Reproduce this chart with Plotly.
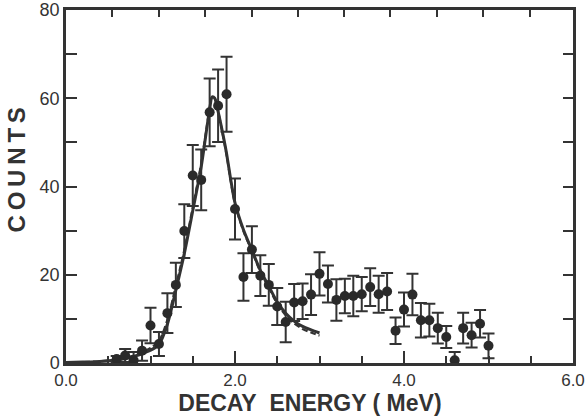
import plotly.graph_objects as go

# Measured spectrum (bin centres in MeV), counts and their error bars
energy = [0.6, 0.7, 0.8, 0.9, 1.0, 1.1, 1.2, 1.3, 1.4, 1.5, 1.6, 1.7, 1.8, 1.9, 2.0,
          2.1, 2.2, 2.3, 2.4, 2.5, 2.6, 2.7, 2.8, 2.9, 3.0, 3.1, 3.2, 3.3, 3.4, 3.5,
          3.6, 3.7, 3.8, 3.9, 4.0, 4.1, 4.2, 4.3, 4.4, 4.5, 4.6, 4.7, 4.8, 4.9, 5.0]
counts = [0.9, 1.7, 0.6, 2.8, 8.5, 4.3, 11.3, 17.7, 29.9, 42.5, 41.5, 56.8, 58.3, 60.9, 34.9,
          19.5, 25.7, 19.8, 17.7, 12.8, 9.3, 13.7, 14.0, 15.5, 20.2, 17.9, 14.3, 15.2, 15.2, 15.6,
          17.2, 15.6, 16.2, 7.3, 12.1, 15.5, 9.7, 9.7, 7.9, 5.9, 0.6, 7.9, 6.3, 8.9, 3.9]
errors = [0.7, 1.5, 1.9, 2.3, 4.0, 2.7, 4.5, 5.0, 6.1, 6.9, 6.9, 7.7, 8.2, 8.5, 6.9,
          5.4, 5.3, 4.6, 4.75, 4.2, 4.6, 4.2, 4.0, 4.6, 4.9, 4.2, 4.7, 3.9, 4.6, 3.9,
          4.3, 4.2, 4.2, 3.0, 3.85, 4.7, 3.9, 3.7, 3.5, 2.5, 1.9, 3.5, 2.8, 3.1, 2.8]

# Fit curves
fit_x = [0.0, 0.2, 0.4, 0.6, 0.7, 0.8, 0.9, 1.0, 1.1, 1.2, 1.3, 1.4, 1.5, 1.6, 1.65, 1.7,
         1.73, 1.76, 1.8, 1.85, 1.9, 1.95, 2.0, 2.1, 2.2, 2.3, 2.4, 2.5, 2.6, 2.7, 2.8, 2.9, 3.0]
fit_solid = [0.1, 0.2, 0.35, 0.7, 1.0, 1.5, 2.1, 2.9, 4.2, 8.8, 16.5, 24.8, 34.5, 44.5, 51.0, 57.5,
             60.3, 60.0, 57.0, 52.5, 47.5, 41.5, 36.3, 30.2, 25.6, 21.0, 17.4, 13.8, 11.3, 9.5, 8.3, 7.5, 6.8]
fit_dashed = [0.1, 0.2, 0.4, 0.8, 1.1, 1.7, 2.4, 3.4, 5.0, 9.8, 17.5, 25.6, 35.3, 45.2, 51.5, 57.8,
              60.3, 60.0, 57.0, 52.3, 47.2, 41.2, 36.0, 29.9, 25.3, 20.7, 17.1, 13.4, 10.8, 9.0, 7.7, 6.9, 6.2]

x_major_ticks = [0.0, 2.0, 4.0, 6.0]
x_tick_labels = ["0.0", "2.0", "4.0", "6.0"]
top_ticks = [0.55, 1.10, 1.65, 2.20, 2.75, 3.29, 3.84, 4.39, 4.94, 5.49]
y_major_ticks = [0, 20, 40, 60, 80]
y_tick_labels = ["0", "20", "40", "60", "80"]
right_ticks = [10, 20, 30, 40, 50, 60, 70]

INK = "#333333"
FONT = "Liberation Sans, Arial, sans-serif"
NB = "\u00a0"
TH = "\u2009"

x_title = "<b>DECAY" + NB * 2 + "ENERGY ( MeV)" + NB * 3 + "</b>"
y_title = "<b>" + NB * 5 + TH.join("COUNTS") + "</b>"

fig = go.Figure()

fig.add_trace(go.Scatter(x=fit_x, y=fit_dashed, mode="lines", line=dict(color=INK, width=2.2, dash="6px,3px", shape="spline", smoothing=0.8),
                         showlegend=False, hoverinfo="skip"))
fig.add_trace(go.Scatter(x=fit_x, y=fit_solid, mode="lines", line=dict(color=INK, width=3, shape="spline", smoothing=0.8),
                         showlegend=False, hoverinfo="skip"))
fig.add_trace(go.Scatter(x=energy, y=counts, mode="markers",
                         marker=dict(color="#2a2a2a", size=10),
                         error_y=dict(type="data", array=errors, visible=True, thickness=2, width=6, color=INK),
                         showlegend=False))
# invisible trace to activate the mirrored tick axes
fig.add_trace(go.Scatter(x=[0], y=[0], xaxis="x2", yaxis="y2", mode="markers", marker=dict(opacity=0),
                         showlegend=False, hoverinfo="skip"))

fig.update_layout(
    width=587, height=416,
    margin=dict(l=66, r=14, t=10, b=53),
    paper_bgcolor="white", plot_bgcolor="white",
    font=dict(family=FONT, color=INK),
    xaxis=dict(range=[0, 6], tickvals=x_major_ticks, ticktext=x_tick_labels, automargin=False,
               ticks="inside", ticklen=12, tickwidth=2, tickcolor=INK,
               minor=dict(dtick=0.5, ticks="inside", ticklen=7, tickwidth=2, tickcolor=INK),
               showline=True, linewidth=2.5, linecolor=INK, mirror=True,
               showgrid=False, zeroline=False,
               tickfont=dict(size=17, color=INK),
               title=dict(text=x_title, font=dict(size=23, color=INK), standoff=4)),
    yaxis=dict(range=[0, 80], tickvals=y_major_ticks, ticktext=y_tick_labels, automargin=False,
               ticks="inside", ticklen=11, tickwidth=2, tickcolor=INK,
               minor=dict(dtick=10, ticks="inside", ticklen=11, tickwidth=2, tickcolor=INK),
               showline=True, linewidth=2.5, linecolor=INK, mirror=True,
               showgrid=False, zeroline=False,
               tickfont=dict(size=18, color=INK),
               title=dict(text=y_title, font=dict(size=24, color=INK), standoff=8)),
    xaxis2=dict(range=[0, 6], overlaying="x", side="top", tickvals=top_ticks, automargin=False,
                ticks="inside", ticklen=7, tickwidth=2, tickcolor=INK,
                showticklabels=False, showgrid=False, zeroline=False, showline=False),
    yaxis2=dict(range=[0, 80], overlaying="y", side="right", tickvals=right_ticks, automargin=False,
                ticks="inside", ticklen=10, tickwidth=2, tickcolor=INK,
                showticklabels=False, showgrid=False, zeroline=False, showline=False),
)

fig.write_html("out.html")
